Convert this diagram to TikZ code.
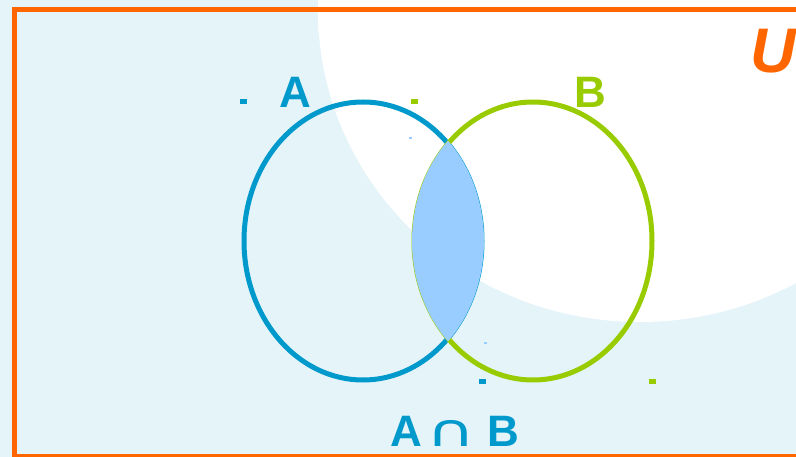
\documentclass[tikz,border=0pt]{standalone}
\usepackage{graphicx}
\usepackage{fontspec}
\setmainfont{Liberation Sans}
\newfontfamily\capfont{DejaVu Sans}
\usetikzlibrary{positioning}
\definecolor{frameorange}{HTML}{FF6600}
\definecolor{paper}      {HTML}{E5F4F9}
\definecolor{setblue}    {HTML}{0099CC}
\definecolor{setgreen}   {HTML}{99CC00}
\definecolor{lensblue}   {HTML}{99CCFF}
\pgfdeclareradialshading{glow}{\pgfpoint{0bp}{0bp}}{%
  color(0bp)=(white); color(43bp)=(white); color(50bp)=(paper); color(72bp)=(paper)}
\tikzset{
  % --- shapes
  setline/.style = {line width=5pt},
  % --- texts
  setlbl/.style  = {font=\fontsize{44}{48}\selectfont\bfseries, inner sep=0pt, anchor=base},
  unilbl/.style  = {font=\fontsize{63}{70}\selectfont\bfseries\itshape, inner sep=0pt,
                    anchor=base west, text=frameorange},
  % --- small marks
  corner/.style  = {fill, inner sep=0pt, minimum width=7pt, minimum height=5pt},
  speck/.style   = {fill=lensblue, inner sep=0pt, minimum width=3pt, minimum height=2pt},
}

\begin{document}
\begin{tikzpicture}[x=1pt,y=-1pt]
  \useasboundingbox (0,0) rectangle (796,457);
  \clip (0,0) rectangle (796,457);
  % background and glow
  \fill[paper] (0,0) rectangle (796,457);
  \shade[shading=glow] (640,10) ellipse [x radius=322, y radius=312];

  % universe
  \draw[frameorange, line width=5.5pt] (14.5,9.5) rectangle (830,456.5);
  \node[unilbl] (univ) at (750,73) {U};

  % the two sets
  \coordinate (cA) at (363,241);
  \coordinate (cB) at (533,241);
  \draw[setline, setblue]  (cA) ellipse [x radius=119, y radius=139];
  \draw[setline, setgreen] (cB) ellipse [x radius=119, y radius=139];
  \begin{scope}
    \clip (cA) ellipse [x radius=121, y radius=141];
    \fill[lensblue] (cB) ellipse [x radius=121, y radius=141];
  \end{scope}

  % labels
  \node[setlbl, text=setblue]  (lblA)  at (295.5,108) {A};
  \node[setlbl, text=setgreen] (lblB)  at (590,108)   {B};
  \node[setlbl, text=setblue]  (lblAB) at (454.5,446)
    {A\hspace{5pt}\scalebox{1.5}[1]{\capfont\mdseries\fontsize{45}{48}\selectfont ∩}\hspace{11pt}B};

  % corner marks
  \node[corner, setblue]  (ctlA) at (243.5,101.5) {};
  \node[corner, setgreen] (ctlB) at (414,101.5)   {};
  \node[corner, setblue]  (cbrA) at (482.5,381.5) {};
  \node[corner, setgreen] (cbrB) at (652.5,381.5) {};
  \node[speck] (sp1) at (410,138) {};
  \node[speck] (sp2) at (485,343) {};
\end{tikzpicture}
\end{document}
